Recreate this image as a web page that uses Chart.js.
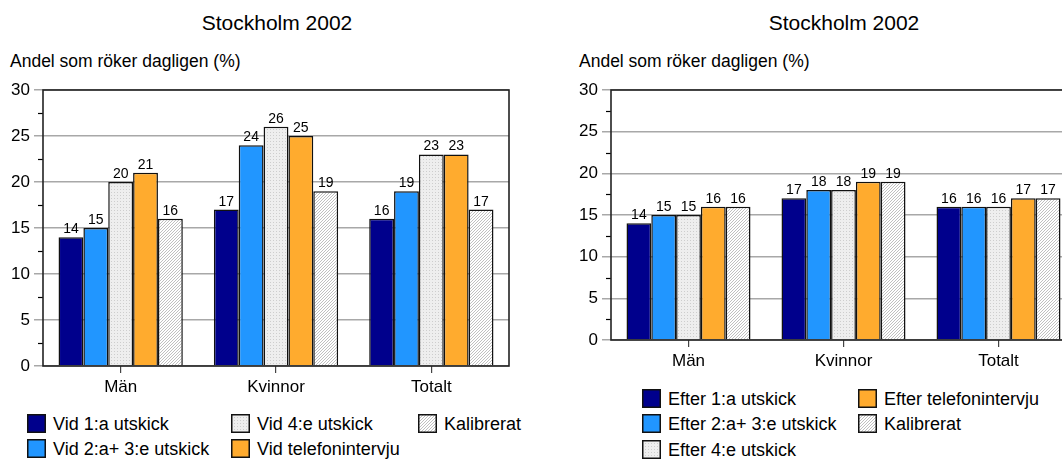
<!DOCTYPE html>
<html>
<head>
<meta charset="utf-8">
<script src="https://cdn.jsdelivr.net/npm/chart.js@4.4.1/dist/chart.umd.min.js"></script>
<style>
  html, body { margin:0; padding:0; background:#fff; width:1062px; height:459px; overflow:hidden; position:relative; font-family:"Liberation Sans", Arial, sans-serif; color:#000; }
  .abs { position:absolute; white-space:nowrap; line-height:1; }
  .title { font-size:21px; }
  .ytitle { font-size:17.5px; }
  canvas { position:absolute; }
  .leg { position:absolute; font-size:18px; }
  .leg .item { position:absolute; white-space:nowrap; line-height:1; }
  .leg canvas { position:absolute; left:0; top:0; }
  .leg span { position:absolute; top:1px; }
</style>
</head>
<body>
<div class="abs title" id="t1"></div>
<div class="abs ytitle" id="y1"></div>
<div class="abs title" id="t2"></div>
<div class="abs ytitle" id="y2"></div>
<canvas id="c1" width="530" height="400" style="left:0;top:0;width:530px;height:400px"></canvas>
<canvas id="c2" width="520" height="380" style="left:570px;top:0;width:520px;height:380px"></canvas>
<div class="leg" id="leg1"></div>
<div class="leg" id="leg2"></div>
<script>
// ---- Data ----
const categories = ['Män', 'Kvinnor', 'Totalt'];
const chartTitle = 'Stockholm 2002';
const yAxisTitle = 'Andel som röker dagligen (%)';
const yTicks = [0, 5, 10, 15, 20, 25, 30];

const leftLabels = ['Vid 1:a utskick', 'Vid 2:a+ 3:e utskick', 'Vid 4:e utskick', 'Vid telefonintervju', 'Kalibrerat'];
const vid1 = [14, 17, 16];
const vid23 = [15, 24, 19];
const vid4 = [20, 26, 23];
const vidTel = [21, 25, 23];
const vidKalib = [16, 19, 17];

const rightLabels = ['Efter 1:a utskick', 'Efter 2:a+ 3:e utskick', 'Efter 4:e utskick', 'Efter telefonintervju', 'Kalibrerat'];
const eft1 = [14, 17, 16];
const eft23 = [15, 18, 16];
const eft4 = [15, 18, 16];
const eftTel = [16, 19, 17];
const eftKalib = [16, 19, 17];

// ---- Styles ----
function dotPattern(ctx) {
  const c = document.createElement('canvas'); c.width = 3; c.height = 3;
  const g = c.getContext('2d');
  g.fillStyle = '#eeeeee'; g.fillRect(0, 0, 3, 3);
  g.fillStyle = '#cdcdcd'; g.fillRect(0, 0, 1, 1);
  return ctx.createPattern(c, 'repeat');
}
function hatchPattern(ctx) {
  const c = document.createElement('canvas'); c.width = 3; c.height = 3;
  const g = c.getContext('2d');
  g.fillStyle = '#ffffff'; g.fillRect(0, 0, 3, 3);
  g.fillStyle = '#c0c0c0';
  g.fillRect(2, 0, 1, 1); g.fillRect(1, 1, 1, 1); g.fillRect(0, 2, 1, 1);
  return ctx.createPattern(c, 'repeat');
}
function fills(ctx) {
  return ['#00008c', '#2196ff', dotPattern(ctx), '#ffab2e', hatchPattern(ctx)];
}

// ---- Plugin: frame, minor ticks, value labels ----
const decor = {
  id: 'decor',
  afterDatasetsDraw(chart) {
    const ctx = chart.ctx, a = chart.chartArea, y = chart.scales.y;
    ctx.save();
    ctx.strokeStyle = '#000'; ctx.lineWidth = 1.2;
    for (let i = 0; i < yTicks.length - 1; i++) {
      const v = (yTicks[i] + yTicks[i + 1]) / 2;
      const py = Math.round(y.getPixelForValue(v)) + 0.5;
      ctx.beginPath(); ctx.moveTo(a.left - 5, py); ctx.lineTo(a.left, py); ctx.stroke();
    }
    ctx.strokeStyle = '#222'; ctx.lineWidth = 1.6;
    ctx.strokeRect(a.left, a.top, a.right - a.left, a.bottom - a.top);
    ctx.fillStyle = '#000';
    ctx.font = '14px "Liberation Sans", Arial, sans-serif';
    ctx.textAlign = 'center'; ctx.textBaseline = 'alphabetic';
    chart.data.datasets.forEach((ds, di) => {
      chart.getDatasetMeta(di).data.forEach((bar, i) => {
        ctx.fillText(String(ds.data[i]), bar.x, bar.y - 4);
      });
    });
    ctx.restore();
  }
};

function makeChart(id, labels, series, yWidth, xHeight, padTop, padRight) {
  const canvas = document.getElementById(id);
  const ctx = canvas.getContext('2d');
  const f = fills(ctx);
  return new Chart(ctx, {
    type: 'bar',
    data: {
      labels: categories,
      datasets: series.map((d, i) => ({
        label: labels[i], data: d,
        backgroundColor: f[i], borderColor: '#111', borderWidth: 1.5,
        categoryPercentage: 0.8, barPercentage: 1.0
      }))
    },
    options: {
      responsive: false, animation: false, devicePixelRatio: 1,
      layout: { padding: { top: padTop, right: padRight, left: 0, bottom: 0 } },
      plugins: { legend: { display: false }, tooltip: { enabled: false }, title: { display: false } },
      scales: {
        y: {
          min: 0, max: 30,
          afterFit(s) { s.width = yWidth; },
          afterBuildTicks(s) { s.ticks = yTicks.map(v => ({ value: v })); },
          ticks: { color: '#000', padding: 4, font: { size: 17, family: '"Liberation Sans", Arial, sans-serif' } },
          grid: { color: '#a8a8a8', lineWidth: 1.5, tickLength: 9 },
          border: { display: false }
        },
        x: {
          afterFit(s) { s.height = xHeight; },
          ticks: { color: '#000', padding: 4, font: { size: 17, family: '"Liberation Sans", Arial, sans-serif' } },
          grid: { offset: false, drawOnChartArea: false, color: '#444', lineWidth: 1.2, tickLength: 7 },
          border: { display: false }
        }
      }
    },
    plugins: [decor]
  });
}

makeChart('c1', leftLabels, [vid1, vid23, vid4, vidTel, vidKalib], 43, 34, 90, 21);
makeChart('c2', rightLabels, [eft1, eft23, eft4, eftTel, eftKalib], 41, 40, 90, 14);

// ---- Titles ----
function place(id, text, x, y, center) {
  const el = document.getElementById(id);
  el.textContent = text;
  el.style.top = y + 'px';
  el.style.left = (center ? x - el.getBoundingClientRect().width / 2 : x) + 'px';
}
place('t1', chartTitle, 277, 12, true);
place('t2', chartTitle, 844, 12, true);
place('y1', yAxisTitle, 10, 53, false);
place('y2', yAxisTitle, 579, 53, false);

// ---- Legends ----
function legend(id, labels, cols, rowTops) {
  const box = document.getElementById(id);
  labels.forEach((lab, i) => {
    const col = Math.floor(i / rowTops.length), row = i % rowTops.length;
    const it = document.createElement('div');
    it.className = 'item';
    it.style.left = cols[col] + 'px';
    it.style.top = rowTops[row] + 'px';
    const c = document.createElement('canvas'); c.width = 19; c.height = 19;
    c.style.width = '19px'; c.style.height = '19px';
    const g = c.getContext('2d');
    g.fillStyle = fills(g)[i]; g.fillRect(0, 0, 19, 19);
    g.strokeStyle = '#111'; g.lineWidth = 1.5; g.strokeRect(0.75, 0.75, 17.5, 17.5);
    const s = document.createElement('span'); s.textContent = lab; s.style.left = '26px';
    it.appendChild(c); it.appendChild(s);
    box.appendChild(it);
  });
}
legend('leg1', leftLabels, [27, 231, 418], [414, 439]);
legend('leg2', rightLabels, [642, 858], [389, 414, 440]);
</script>
</body>
</html>
